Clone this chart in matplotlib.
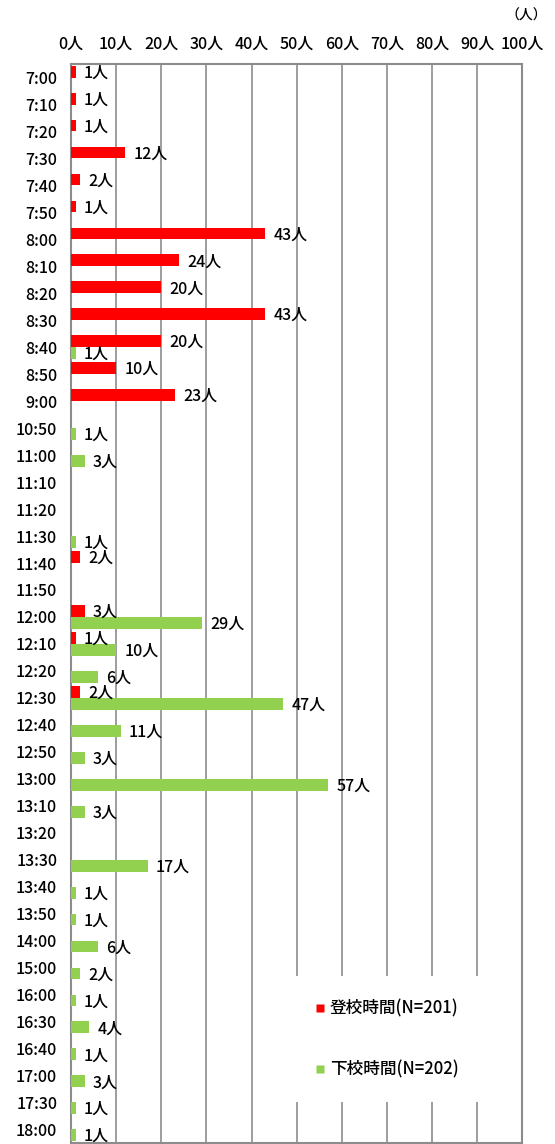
import numpy as np
import matplotlib
matplotlib.use("Agg")
import matplotlib.pyplot as plt
from matplotlib.lines import Line2D

plt.rcParams['font.family'] = ['Noto Sans CJK JP', 'DejaVu Sans']
plt.rcParams['font.weight'] = 'medium'

# time slots (rows, top to bottom)
times = ["7:00", "7:10", "7:20", "7:30", "7:40", "7:50", "8:00", "8:10", "8:20", "8:30",
         "8:40", "8:50", "9:00", "10:50", "11:00", "11:10", "11:20", "11:30", "11:40", "11:50",
         "12:00", "12:10", "12:20", "12:30", "12:40", "12:50", "13:00", "13:10", "13:20", "13:30",
         "13:40", "13:50", "14:00", "15:00", "16:00", "16:30", "16:40", "17:00", "17:30", "18:00"]
# 登校時間 (arrival)
toko = [1, 1, 1, 12, 2, 1, 43, 24, 20, 43,
        20, 10, 23, 0, 0, 0, 0, 0, 2, 0,
        3, 1, 0, 2, 0, 0, 0, 0, 0, 0,
        0, 0, 0, 0, 0, 0, 0, 0, 0, 0]
# 下校時間 (departure)
geko = [0, 0, 0, 0, 0, 0, 0, 0, 0, 0,
        1, 0, 0, 1, 3, 0, 0, 1, 0, 0,
        29, 10, 6, 47, 11, 3, 57, 3, 0, 17,
        1, 1, 6, 2, 1, 4, 1, 3, 1, 1]
xticks = [0, 10, 20, 30, 40, 50, 60, 70, 80, 90, 100]

red = "#FF0000"
green = "#92D050"
grey = "#8c8c8c"

fig = plt.figure(figsize=(5.55, 11.44), dpi=100)
ax = fig.add_axes([0.128, 0.001, 0.813, 0.943])

y = np.arange(len(times))
off = 0.22
h = 0.44
ax.barh(y - off, toko, height=h, color=red, zorder=3)
ax.barh(y + off, geko, height=h, color=green, zorder=3)

for yi, v in zip(y, toko):
    if v:
        ax.annotate(f"{v}人", (v, yi - off), xytext=(6, -1), textcoords="offset points",
                    ha="left", va="center", fontsize=11.5, zorder=4)
for yi, v in zip(y, geko):
    if v:
        ax.annotate(f"{v}人", (v, yi + off), xytext=(6, -1), textcoords="offset points",
                    ha="left", va="center", fontsize=11.5, zorder=4)

ax.set_xlim(0, 100)
ax.set_ylim(len(times) - 0.5, -0.5)
ax.set_yticks(y)
ax.set_yticklabels(times, fontsize=11.5)
ax.set_xticks(xticks)
ax.set_xticklabels([f"{t}人" for t in xticks], fontsize=11.5)
ax.xaxis.tick_top()
ax.tick_params(axis="x", length=0, pad=8)
ax.tick_params(axis="y", length=0, pad=10)
ax.grid(axis="x", color=grey, linewidth=1.2, zorder=0)
for s in ax.spines.values():
    s.set_color(grey)
    s.set_linewidth(1.5)

fig.text(0.985, 0.986, "（人）", ha="right", va="center", fontsize=10)

handles = [Line2D([], [], marker="s", linestyle="none", markerfacecolor=red,
                  markeredgecolor="none", markersize=6),
           Line2D([], [], marker="s", linestyle="none", markerfacecolor=green,
                  markeredgecolor="none", markersize=6)]
leg = ax.legend(handles, ["登校時間(N=201)", "下校時間(N=202)"], loc="lower left",
                bbox_to_anchor=(0.47, 0.03), fontsize=12, frameon=True,
                facecolor="white", edgecolor="none", framealpha=1, fancybox=False,
                labelspacing=2.6, borderpad=1.4, handlelength=0.6, handletextpad=0.3)
leg.set_zorder(5)

fig.savefig("out.png", dpi=100)
